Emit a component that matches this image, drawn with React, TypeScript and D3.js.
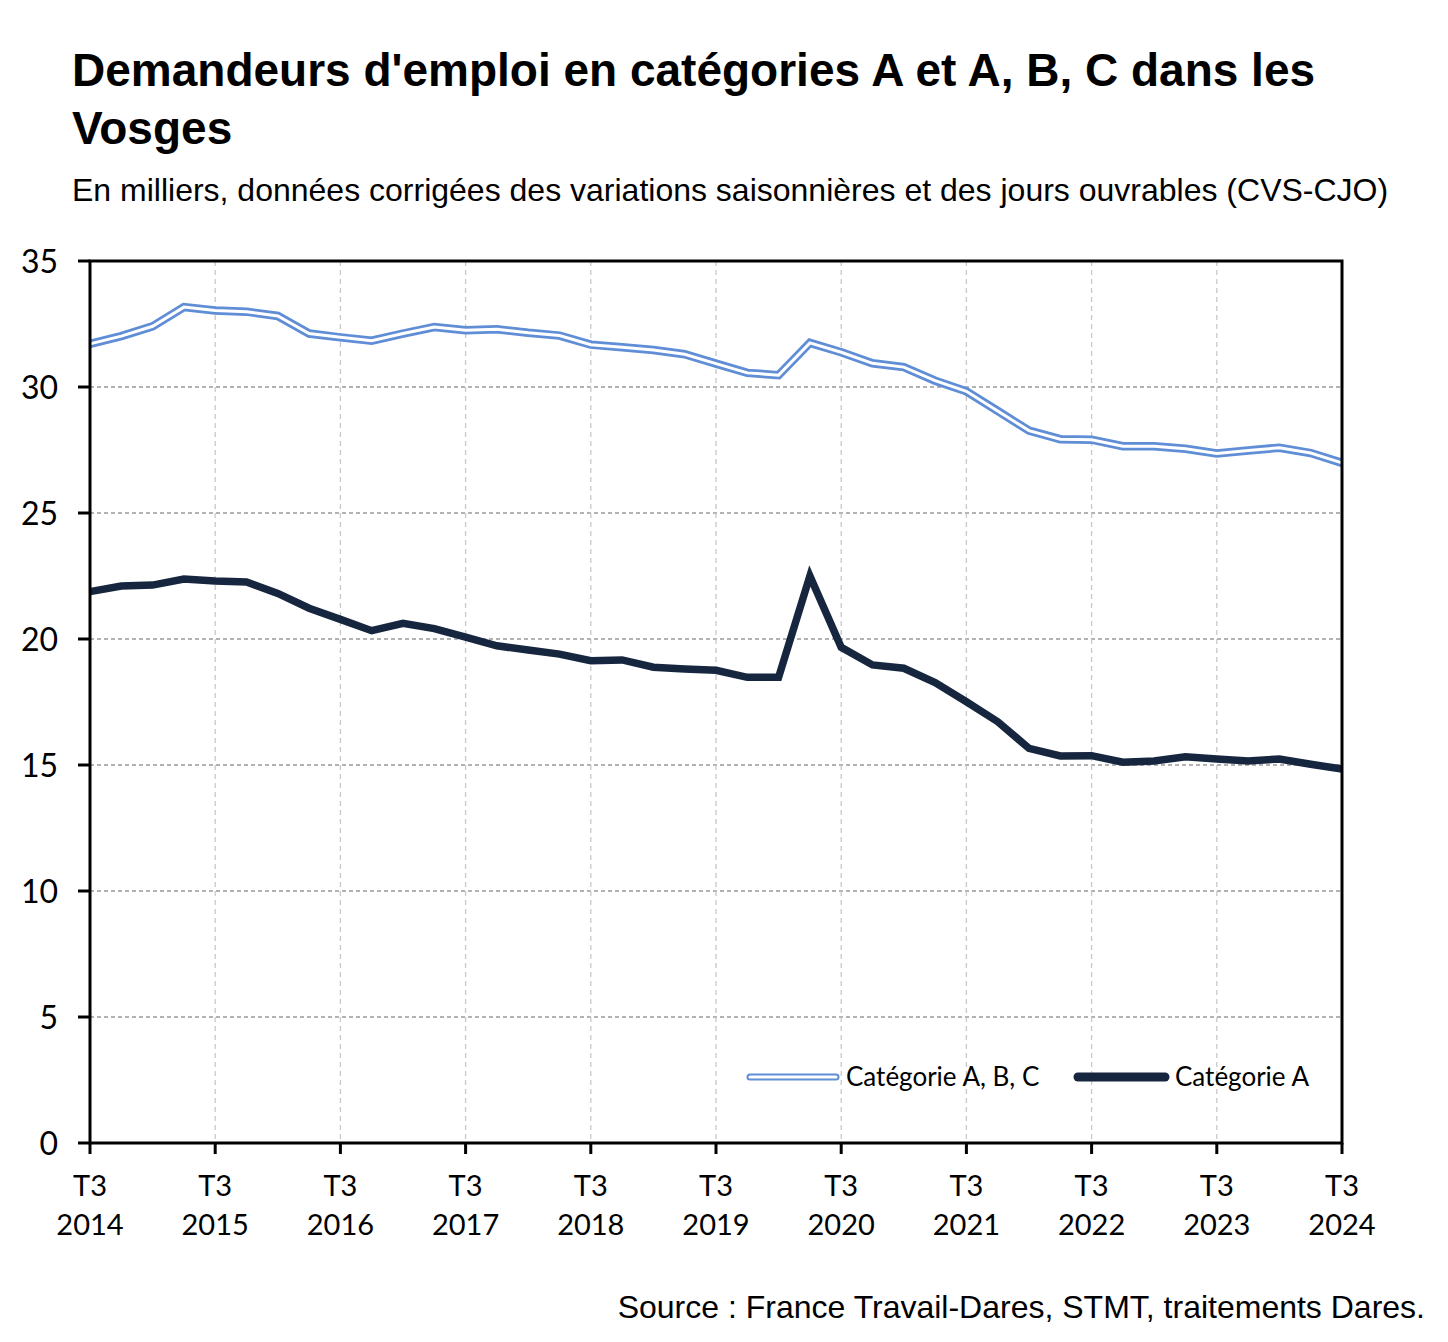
import * as d3 from "d3";

// Demandeurs d'emploi, Vosges — quarterly CVS-CJO, in thousands
const quarters = [
  "T3 2014", "T4 2014", "T1 2015", "T2 2015", "T3 2015", "T4 2015", "T1 2016", "T2 2016",
  "T3 2016", "T4 2016", "T1 2017", "T2 2017", "T3 2017", "T4 2017", "T1 2018", "T2 2018",
  "T3 2018", "T4 2018", "T1 2019", "T2 2019", "T3 2019", "T4 2019", "T1 2020", "T2 2020",
  "T3 2020", "T4 2020", "T1 2021", "T2 2021", "T3 2021", "T4 2021", "T1 2022", "T2 2022",
  "T3 2022", "T4 2022", "T1 2023", "T2 2023", "T3 2023", "T4 2023", "T1 2024", "T2 2024",
  "T3 2024",
];

const catABC = [
  31.71, 32.02, 32.41, 33.17, 33.04, 32.99, 32.82, 32.12, 31.97, 31.84,
  32.12, 32.38, 32.25, 32.29, 32.15, 32.04, 31.68, 31.58, 31.47, 31.3,
  30.93, 30.56, 30.47, 31.75, 31.38, 30.94, 30.79, 30.25, 29.83, 29.05,
  28.27, 27.93, 27.91, 27.65, 27.65, 27.55, 27.36, 27.48, 27.59, 27.38,
  26.99,
];

const catA = [
  21.88, 22.1, 22.14, 22.38, 22.3, 22.26, 21.81, 21.22, 20.78, 20.33,
  20.62, 20.41, 20.07, 19.73, 19.56, 19.4, 19.14, 19.17, 18.88, 18.81,
  18.76, 18.48, 18.48, 22.5, 19.67, 18.97, 18.84, 18.27, 17.51, 16.72,
  15.66, 15.36, 15.37, 15.11, 15.16, 15.33, 15.24, 15.16, 15.24, 15.03,
  14.84,
];

const yTicks = [0, 5, 10, 15, 20, 25, 30, 35];
const xTicks = quarters.filter((q) => q.startsWith("T3"));

const W = 1448;
const H = 1342;
const left = 90;
const right = 1342;
const top = 261;
const bottom = 1143;

const BLUE = "#5f8dd6";
const NAVY = "#16263f";
const TICK_FONT = "Lato, 'Open Sans', sans-serif";
const TEXT_FONT = "'Liberation Sans', Arial, sans-serif";

export default function App() {
  const x = d3.scalePoint<string>().domain(quarters).range([left, right]);
  const y = d3.scaleLinear().domain([0, 35]).range([bottom, top]);

  const line = d3
    .line<number>()
    .x((_, i) => x(quarters[i]) as number)
    .y((d) => y(d));

  return (
    <svg
      width={W}
      height={H}
      style={{ position: "absolute", left: 0, top: 0, background: "#fff" }}
    >
      {/* titles */}
      <text x={72} y={86} fontFamily={TEXT_FONT} fontWeight="bold" fontSize={46}>
        Demandeurs d'emploi en catégories A et A, B, C dans les
      </text>
      <text x={72} y={144} fontFamily={TEXT_FONT} fontWeight="bold" fontSize={46}>
        Vosges
      </text>
      <text x={72} y={201} fontFamily={TEXT_FONT} fontSize={32}>
        En milliers, données corrigées des variations saisonnières et des jours ouvrables (CVS-CJO)
      </text>

      {/* grid */}
      {yTicks
        .filter((t) => t > 0 && t < 35)
        .map((t) => (
          <line
            key={"gy" + t}
            x1={left}
            x2={right}
            y1={y(t)}
            y2={y(t)}
            stroke="#9a9a9a"
            strokeWidth={1.3}
            strokeDasharray="4 3"
          />
        ))}
      {xTicks.slice(1, -1).map((q) => (
        <line
          key={"gx" + q}
          x1={x(q)}
          x2={x(q)}
          y1={top}
          y2={bottom}
          stroke="#c8c8c8"
          strokeWidth={1.3}
          strokeDasharray="5 4"
        />
      ))}

      {/* series */}
      <path d={line(catABC) ?? ""} fill="none" stroke={BLUE} strokeWidth={8.5} strokeLinejoin="miter" />
      <path d={line(catABC) ?? ""} fill="none" stroke="#fff" strokeWidth={3} strokeLinejoin="miter" />
      <path d={line(catA) ?? ""} fill="none" stroke={NAVY} strokeWidth={7.5} strokeLinejoin="miter" />

      {/* frame */}
      <rect
        x={left}
        y={top}
        width={right - left}
        height={bottom - top}
        fill="none"
        stroke="#000"
        strokeWidth={3}
      />

      {/* y axis */}
      {yTicks.map((t) => (
        <g key={"ty" + t}>
          <line x1={left - 12} x2={left} y1={y(t)} y2={y(t)} stroke="#000" strokeWidth={3} />
          <text
            x={58}
            y={y(t)}
            dy="0.36em"
            textAnchor="end"
            fontFamily={TICK_FONT}
            fontSize={32}
          >
            {t}
          </text>
        </g>
      ))}

      {/* x axis */}
      {xTicks.map((q) => {
        const [tq, yr] = q.split(" ");
        return (
          <g key={"tx" + q}>
            <line x1={x(q)} x2={x(q)} y1={bottom} y2={bottom + 11} stroke="#000" strokeWidth={3} />
            <text x={x(q)} y={1196} textAnchor="middle" fontFamily={TICK_FONT} fontSize={29}>
              {tq}
            </text>
            <text x={x(q)} y={1235} textAnchor="middle" fontFamily={TICK_FONT} fontSize={29}>
              {yr}
            </text>
          </g>
        );
      })}

      {/* legend */}
      <g>
        <line x1={750} x2={836} y1={1077} y2={1077} stroke={BLUE} strokeWidth={7} strokeLinecap="round" />
        <line x1={750} x2={836} y1={1077} y2={1077} stroke="#fff" strokeWidth={3} strokeLinecap="round" />
        <text x={846} y={1077} dy="0.36em" fontFamily={TICK_FONT} fontSize={26}>
          Catégorie A, B, C
        </text>
        <line x1={1078} x2={1165} y1={1077} y2={1077} stroke={NAVY} strokeWidth={9} strokeLinecap="round" />
        <text x={1175} y={1077} dy="0.36em" fontFamily={TICK_FONT} fontSize={26}>
          Catégorie A
        </text>
      </g>

      {/* source */}
      <text x={1425} y={1318} textAnchor="end" fontFamily={TEXT_FONT} fontSize={32}>
        Source : France Travail-Dares, STMT, traitements Dares.
      </text>
    </svg>
  );
}
